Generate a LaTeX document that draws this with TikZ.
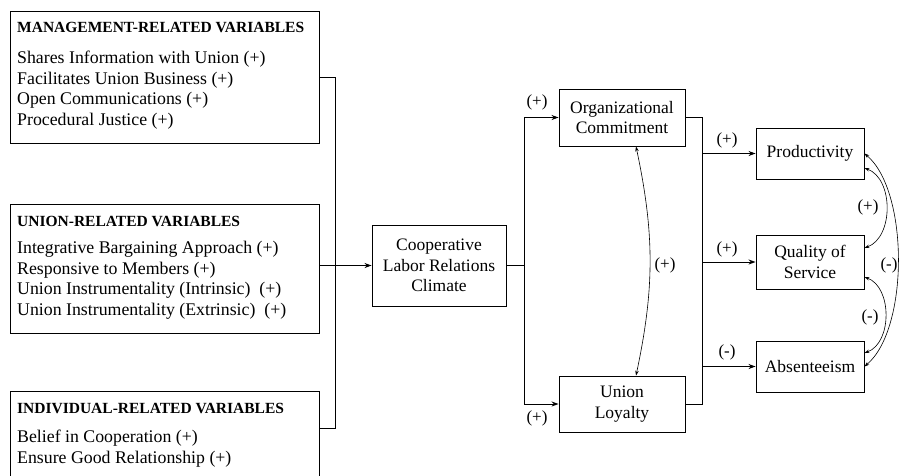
\documentclass[tikz,border=0pt]{standalone}
\usepackage{fontspec}
\setmainfont{Liberation Serif}
\usetikzlibrary{arrows.meta, calc}

\begin{document}
\begin{tikzpicture}[x=1pt, y=-1pt,
    box/.style={draw, line width=0.9pt, align=center, inner sep=0pt,
      font=\fontsize{17.5}{20.5}\selectfont},
    varbox/.style={draw, line width=0.9pt, anchor=north west, inner sep=0pt,
      minimum width=309pt},
    vartitle/.style={anchor=west, inner sep=0pt, font=\fontsize{15.5}{18}\selectfont\bfseries},
    vartext/.style={anchor=north west, align=left, inner sep=0pt,
      font=\fontsize{17.8}{20.5}\selectfont},
    sign/.style={inner sep=0pt, font=\fontsize{17}{20}\selectfont},
    wire/.style={line width=0.9pt},
    link/.style={line width=0.9pt, -{Stealth[length=7pt, width=5pt]}},
    twoway/.style={line width=0.6pt, {Stealth[length=5pt, width=3.5pt]}-{Stealth[length=5pt, width=3.5pt]}}]

  \useasboundingbox (0,0) rectangle (899,475);

  % 1. the three groups of variables
  \node[varbox, minimum height=132pt] (mgmt) at (10,11) {};
  \node[vartitle] (mgmttitle) at (17,27) {MANAGEMENT-RELATED VARIABLES};
  \node[vartext] (mgmtlist) at (17,51) {Shares Information with Union (+)\\
    Facilitates Union Business (+)\\ Open Communications (+)\\ Procedural Justice (+)};

  \node[varbox, minimum height=129pt] (union) at (10,204) {};
  \node[vartitle] (uniontitle) at (17,221) {UNION-RELATED VARIABLES};
  \node[vartext] (unionlist) at (17,241) {Integrative Bargaining Approach (+)\\
    Responsive to Members (+)\\ Union Instrumentality (Intrinsic)\ \ (+)\\
    Union Instrumentality (Extrinsic)\ \ (+)};

  \node[varbox, minimum height=100pt] (indiv) at (10,391) {};
  \node[vartitle] (indivtitle) at (17,408) {INDIVIDUAL-RELATED VARIABLES};
  \node[vartext] (indivlist) at (17,430) {Belief in Cooperation (+)\\
    Ensure Good Relationship (+)};

  % 2. climate and the two attitudes
  \node[box, minimum width=134pt, minimum height=81pt] (climate) at (439,265.5)
    {Cooperative\\ Labor Relations\\ Climate};
  \node[box, minimum width=126pt, minimum height=57pt] (oc) at (622,117.5)
    {Organizational\\ Commitment};
  \node[box, minimum width=126pt, minimum height=56pt] (ul) at (622,404)
    {Union\\ Loyalty};

  % 3. the three outcomes
  \node[box, minimum width=108pt, minimum height=51pt] (prod) at (810,153.5) {Productivity};
  \node[box, minimum width=108pt, minimum height=54pt] (qual) at (810,262) {Quality of\\ Service};
  \node[box, minimum width=108pt, minimum height=51pt] (abs) at (810,366.5) {Absenteeism};

  % 4. left bus into the climate box
  \coordinate (indivout) at ($(indiv.north east)+(0,37)$);
  \coordinate (busl) at (335,0);
  \draw[wire] (mgmt.east) -| (busl |- indivout) -- (indivout);
  \draw[link] (union.east |- climate.west) -- (climate.west);

  % 5. climate to commitment and loyalty
  \coordinate (busm) at (524,0);
  \draw[wire] (climate.east) -- (busm |- climate.east);
  \draw[link] (busm |- ul.west) |- (oc.west);
  \draw[link] (busm |- ul.west) -- (ul.west);
  \node[sign] (s1) at (537,102) {(+)};
  \node[sign] (s2) at (537,418) {(+)};
  \draw[twoway] ($(oc.south)+(14,0)$) to[bend left=12] ($(ul.north)+(14,0)$);
  \node[sign] (s3) at (665,265) {(+)};

  % 6. attitudes to outcomes
  \coordinate (busr) at (702,0);
  \draw[wire] (oc.east) -| (busr |- ul.east) -- (ul.east);
  \draw[link] (busr |- prod.west) -- (prod.west);
  \draw[link] (busr |- qual.west) -- (qual.west);
  \draw[link] (busr |- abs.west) -- (abs.west);
  \node[sign] (s4) at (727,140) {(+)};
  \node[sign] (s5) at (727,249) {(+)};
  \node[sign] (s6) at (727,352) {(-)};

  % 7. links among the outcomes
  \draw[twoway] ($(prod.east)+(0,14.5)$) to[out=-20, in=20] ($(qual.east)+(0,-14)$);
  \draw[twoway] ($(qual.east)+(0,15)$) to[out=-20, in=20] ($(abs.east)+(0,-13.5)$);
  \draw[twoway] (prod.east) to[out=-40, in=40, looseness=0.7] (abs.east);
  \node[sign] (s7) at (868,207) {(+)};
  \node[sign] (s8) at (870,317) {(-)};
  \node[sign] (s9) at (889,265) {(-)};
\end{tikzpicture}
\end{document}
